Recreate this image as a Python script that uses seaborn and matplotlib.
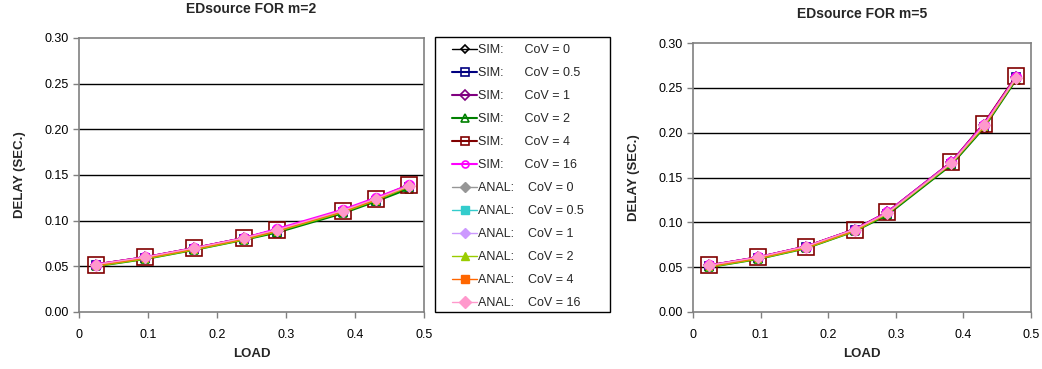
import matplotlib
matplotlib.use("Agg")
import matplotlib.pyplot as plt
from matplotlib.lines import Line2D
from matplotlib.patches import Rectangle
import seaborn as sns
import pandas as pd

sns.set_theme(style="white")
plt.rcParams['font.family'] = ['Liberation Sans', 'DejaVu Sans']

load = [0.024, 0.096, 0.167, 0.239, 0.287, 0.382, 0.430, 0.478]

# m = 2 panel
m2_sim_0 = [0.051, 0.059, 0.069, 0.080, 0.089, 0.110, 0.123, 0.137]
m2_sim_05 = [0.051, 0.059, 0.069, 0.080, 0.088, 0.110, 0.122, 0.137]
m2_sim_1 = [0.052, 0.060, 0.070, 0.081, 0.090, 0.111, 0.124, 0.138]
m2_sim_2 = [0.050, 0.058, 0.068, 0.079, 0.087, 0.108, 0.121, 0.135]
m2_sim_4 = [0.052, 0.060, 0.070, 0.081, 0.090, 0.111, 0.124, 0.139]
m2_sim_16 = [0.052, 0.060, 0.070, 0.081, 0.091, 0.112, 0.125, 0.139]
m2_anal_0 = [0.051, 0.059, 0.069, 0.080, 0.089, 0.110, 0.123, 0.138]
m2_anal_05 = [0.051, 0.059, 0.069, 0.080, 0.089, 0.110, 0.123, 0.138]
m2_anal_1 = [0.051, 0.059, 0.069, 0.080, 0.089, 0.110, 0.123, 0.138]
m2_anal_2 = [0.050, 0.058, 0.068, 0.079, 0.088, 0.109, 0.122, 0.137]
m2_anal_4 = [0.051, 0.059, 0.069, 0.080, 0.089, 0.110, 0.123, 0.138]
m2_anal_16 = [0.052, 0.060, 0.070, 0.081, 0.090, 0.111, 0.124, 0.138]

# m = 5 panel
m5_sim_0 = [0.051, 0.060, 0.072, 0.091, 0.110, 0.166, 0.207, 0.261]
m5_sim_05 = [0.051, 0.060, 0.072, 0.091, 0.109, 0.165, 0.206, 0.262]
m5_sim_1 = [0.052, 0.061, 0.073, 0.092, 0.111, 0.167, 0.209, 0.262]
m5_sim_2 = [0.050, 0.059, 0.071, 0.090, 0.108, 0.164, 0.205, 0.259]
m5_sim_4 = [0.052, 0.061, 0.073, 0.092, 0.111, 0.167, 0.210, 0.263]
m5_sim_16 = [0.052, 0.061, 0.073, 0.092, 0.111, 0.167, 0.209, 0.262]
m5_anal_0 = [0.051, 0.060, 0.072, 0.091, 0.110, 0.166, 0.207, 0.261]
m5_anal_05 = [0.051, 0.060, 0.072, 0.091, 0.110, 0.166, 0.207, 0.261]
m5_anal_1 = [0.051, 0.060, 0.072, 0.091, 0.110, 0.166, 0.207, 0.261]
m5_anal_2 = [0.050, 0.059, 0.071, 0.090, 0.109, 0.165, 0.206, 0.260]
m5_anal_4 = [0.051, 0.060, 0.072, 0.091, 0.110, 0.166, 0.207, 0.261]
m5_anal_16 = [0.052, 0.061, 0.073, 0.092, 0.110, 0.166, 0.208, 0.261]

labels = ["SIM:      CoV = 0", "SIM:      CoV = 0.5", "SIM:      CoV = 1",
          "SIM:      CoV = 2", "SIM:      CoV = 4", "SIM:      CoV = 16",
          "ANAL:    CoV = 0", "ANAL:    CoV = 0.5", "ANAL:    CoV = 1",
          "ANAL:    CoV = 2", "ANAL:    CoV = 4", "ANAL:    CoV = 16"]

m2_series = [m2_sim_0, m2_sim_05, m2_sim_1, m2_sim_2, m2_sim_4, m2_sim_16,
             m2_anal_0, m2_anal_05, m2_anal_1, m2_anal_2, m2_anal_4, m2_anal_16]
m5_series = [m5_sim_0, m5_sim_05, m5_sim_1, m5_sim_2, m5_sim_4, m5_sim_16,
             m5_anal_0, m5_anal_05, m5_anal_1, m5_anal_2, m5_anal_4, m5_anal_16]

colors = ["#000000", "#000080", "#800080", "#008000", "#800000", "#FF00FF",
          "#969696", "#33CCCC", "#CC99FF", "#99CC00", "#FF6600", "#FF99CC"]
markers = ["D", "s", "D", "^", "s", "o", "D", "s", "D", "^", "s", "D"]
msizes = [4, 6, 5, 6, 11, 7, 5, 5, 5, 5, 5, 6]
leg_msizes = [4, 6, 5, 6, 6, 5, 5, 6, 5, 6, 6, 6]
filled = [False] * 6 + [True] * 6
lwidths = [1.0, 1.5, 1.5, 1.5, 1.5, 1.5, 1.0, 1.0, 1.0, 1.0, 1.0, 1.0]

fig = plt.figure(figsize=(10.42, 3.69), dpi=100)
W, H = 1042, 369
ax1 = fig.add_axes([79 / W, (H - 312) / H, (424 - 79) / W, (312 - 38) / H])
ax2 = fig.add_axes([693 / W, (H - 312) / H, (1031 - 693) / W, (312 - 43) / H])

def style_kw(i, ms):
    kw = dict(marker=markers[i], markersize=ms, color=colors[i], linewidth=lwidths[i])
    if filled[i]:
        kw.update(markerfacecolor=colors[i], markeredgecolor=colors[i])
    else:
        kw.update(markerfacecolor="none", markeredgecolor=colors[i], markeredgewidth=1.2)
    return kw

def draw(ax, series, title):
    for i, ys in enumerate(series):
        df = pd.DataFrame({"load": load, "delay": ys})
        sns.lineplot(data=df, x="load", y="delay", ax=ax, legend=False,
                     **style_kw(i, msizes[i]))
    ax.set_xlim(0, 0.5)
    ax.set_ylim(0, 0.3)
    ax.set_xticks([0, 0.1, 0.2, 0.3, 0.4, 0.5])
    ax.set_xticklabels(["0", "0.1", "0.2", "0.3", "0.4", "0.5"])
    ax.set_yticks([0, 0.05, 0.1, 0.15, 0.2, 0.25, 0.3])
    ax.set_yticklabels(["0.00", "0.05", "0.10", "0.15", "0.20", "0.25", "0.30"])
    for yv in [0.05, 0.1, 0.15, 0.2, 0.25]:
        ax.axhline(yv, color="black", linewidth=1.0, zorder=0)
    for s in ax.spines.values():
        s.set_color("#808080")
        s.set_linewidth(1.2)
    ax.tick_params(axis="both", direction="out", length=4, width=1, color="#808080",
                   labelsize=9, labelcolor="#000000", left=True, bottom=True)
    ax.tick_params(axis="x", pad=8)
    ax.set_xlabel("LOAD", fontsize=9.5, fontweight="bold", labelpad=5)
    ax.set_ylabel("DELAY (SEC.)", fontsize=9.5, fontweight="bold", labelpad=13)
    ax.set_title(title, fontsize=10, fontweight="bold", pad=18)

draw(ax1, m2_series, "EDsource FOR m=2")
draw(ax2, m5_series, "EDsource FOR m=5")

handles = [Line2D([], [], **style_kw(i, leg_msizes[i])) for i in range(12)]

fig.patches.append(Rectangle((435 / W, (H - 312) / H), (610 - 435) / W, (312 - 37) / H,
                             transform=fig.transFigure, fill=False,
                             edgecolor="#000000", linewidth=1.0))
leg = fig.legend(handles, labels, loc="upper left",
                 bbox_to_anchor=(452 / W, 1 - 44 / H),
                 fontsize=9, labelspacing=0.88, handlelength=2.0,
                 handletextpad=0.1, borderpad=0.0, frameon=False,
                 borderaxespad=0)

fig.savefig("out.png", dpi=100)
